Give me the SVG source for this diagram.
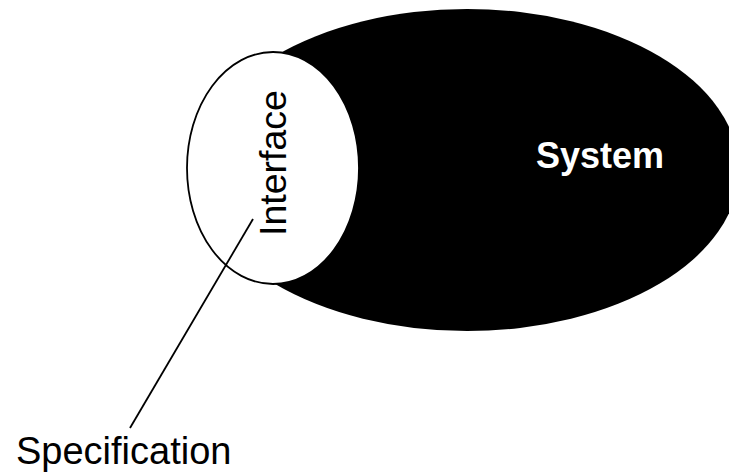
<svg xmlns="http://www.w3.org/2000/svg" width="729" height="474" viewBox="0 0 729 474">
<style>
.lbl{font-family:"Liberation Sans",Arial,sans-serif;font-size:36px}
</style>
<rect width="729" height="474" fill="#fff"/>
<g id="system">
<ellipse cx="467" cy="170" rx="272" ry="161" fill="#000"/>
<text class="lbl" x="536" y="168" fill="#fff" font-weight="bold">System</text>
</g>
<g id="interface">
<ellipse cx="273" cy="168" rx="86" ry="116" fill="#fff" stroke="#000" stroke-width="1.8"/>
<text class="lbl" transform="translate(286,236) rotate(-90)" fill="#000" style="font-size:37.5px">Interface</text>
</g>
<g id="connectors">
<line x1="253" y1="219" x2="130" y2="428" stroke="#000" stroke-width="1.8"/>
</g>
<g id="specification">
<text class="lbl" x="16" y="464" style="font-size:38px" fill="#000">Specification</text>
</g>
</svg>
